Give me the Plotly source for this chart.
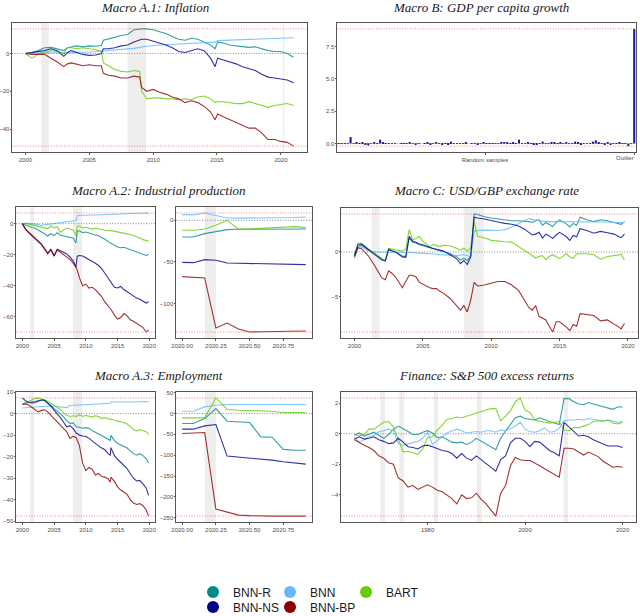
import plotly.graph_objects as go

W, H = 640, 640   # figure is a little taller than the 616px window; the extra strip is blank

MODELS = ["BNN-R", "BNN", "BART", "BNN-NS", "BNN-BP"]
COLORS = ["#008B8B", "#63B8FF", "#66CD00", "#00008B", "#8B0000"]

# ---------------- Macro A.1: Inflation ----------------
a1_years = [2000.0, 2000.5, 2001.0, 2001.5, 2002.0, 2002.5, 2003.0, 2003.3, 2003.6, 2004.0, 2004.5,
            2005.0, 2005.5, 2005.95, 2006.1, 2006.5, 2007.0, 2007.5, 2008.0, 2008.5, 2008.95, 2009.1,
            2009.5, 2010.0, 2010.5, 2011.0, 2011.5, 2012.0, 2012.5, 2013.0, 2013.5, 2014.0, 2014.5,
            2014.85, 2015.05, 2015.5, 2016.0, 2016.5, 2017.0, 2017.5, 2018.0, 2018.5, 2019.0, 2019.5,
            2020.0, 2020.5, 2021.0]
a1_bnn_r = [0.0, 0.5, 1.5, 3.0, 3.2, 2.5, 1.5, 3.0, 3.5, 4.0, 3.5, 4.0, 3.8, 4.2, 7.0, 7.5, 8.5, 9.5,
            10.0, 12.5, 13.0, 13.0, 13.0, 12.5, 11.5, 10.5, 9.0, 7.5, 7.0, 8.0, 7.5, 6.0, 4.5, 2.5, 6.0,
            5.5, 4.5, 4.0, 3.5, 3.2, 3.5, 2.5, 1.5, 1.0, 1.0, 0.0, -2.0]
a1_bnn = [0.0, 0.3, 0.5, 0.5, 0.4, 0.3, 0.3, 0.4, 0.5, 0.5, 0.7, 0.8, 1.0, 1.2, 1.4, 1.5, 1.8, 2.0, 2.3,
          2.7, 3.2, 3.5, 3.8, 4.2, 4.5, 4.6, 4.8, 5.0, 5.2, 5.3, 5.5, 5.7, 5.8, 6.0, 6.8, 6.9, 7.0, 7.2,
          7.3, 7.5, 7.6, 7.7, 7.8, 8.0, 8.1, 8.2, 8.3]
a1_bart = [0.0, -2.5, -0.5, 0.5, 1.5, 1.0, 0.0, 3.0, 3.0, 2.5, 3.0, 2.5, 2.0, 1.0, -5.0, -6.5, -8.5,
           -9.5, -9.8, -9.0, -9.5, -20.0, -24.0, -23.5, -23.5, -24.0, -24.0, -24.5, -24.0, -24.5, -23.0,
           -22.5, -24.0, -26.0, -25.5, -25.5, -26.0, -26.5, -26.5, -25.5, -26.5, -27.5, -28.5, -27.5,
           -27.0, -26.5, -27.5]
a1_bnn_ns = [0.0, 0.5, 1.0, 1.5, 2.5, 1.5, -1.5, 0.5, 1.5, 0.5, -0.5, -1.0, -0.8, 0.0, 2.5, 2.5, 3.0,
             4.0, 4.5, 6.0, 7.0, 7.5, 7.5, 6.5, 5.5, 4.5, 3.0, 1.0, 0.5, 1.5, 2.5, 1.5, -2.5, -7.0, -2.5,
             -3.5, -4.5, -5.5, -7.0, -8.0, -9.0, -11.0, -12.5, -13.0, -13.5, -14.0, -15.5]
a1_bnn_bp = [0.0, -0.5, -0.5, -0.5, -2.5, -4.5, -7.0, -5.5, -5.0, -5.5, -6.5, -6.0, -6.5, -6.5, -10.5,
             -11.5, -12.0, -13.0, -13.0, -12.0, -12.5, -18.0, -20.0, -19.0, -20.5, -21.5, -23.0, -24.0,
             -26.0, -25.0, -26.0, -28.0, -31.0, -35.0, -32.0, -33.5, -35.0, -36.5, -38.0, -39.5, -39.5,
             -42.0, -45.5, -45.5, -46.5, -47.0, -49.0]
a1_recessions = [[2001.25, 2001.83], [2008.0, 2009.45], [2020.15, 2020.27]]

# ---------------- Macro B: GDP per capita growth ----------------
b_random = [0.02, 0.03, 0.01, -0.02, 0.50, 0.04, 0.06, 0.02, 0.05, -0.10,
            -0.15, 0.02, 0.05, 0.04, 0.30, 0.10, 0.02, 0.01, -0.01, 0.02,
            0.00, 0.01, 0.03, -0.02, 0.05, 0.01, -0.10, 0.02, 0.00, 0.03,
            0.06, -0.10, 0.02, 0.05, 0.01, -0.05, 0.02, -0.10, 0.15, 0.01,
            0.02, -0.02, 0.01, 0.10, 0.00, 0.02, -0.01, -0.05, 0.01, 0.05,
            0.02, -0.02, 0.03, 0.01, 0.04, 0.10, 0.05, 0.10, 0.03, 0.10,
            0.02, 0.30, 0.03, 0.01, 0.05, 0.02, -0.10, -0.05, 0.02, 0.15,
            0.01, 0.03, 0.05, 0.10, 0.02, 0.05, 0.01, 0.05, 0.02, 0.01,
            0.15, 0.12, -0.05, 0.01, 0.02, 0.03, 0.15, 0.25, 0.05, 0.01,
            -0.05, 0.05, -0.10, 0.02, 0.01, 0.05, 0.03, 0.02, -0.20, 0.03]
b_outlier = 8.87
b_ticklabels = ["Random samples", "Outlier"]

# ---------------- Macro A.2: Industrial production ----------------
a2_years = [2000.0, 2000.5, 2001.0, 2001.5, 2002.0, 2002.5, 2003.0, 2003.5, 2004.0, 2004.5, 2005.0,
            2005.5, 2006.0, 2006.5, 2007.0, 2007.5, 2008.0, 2008.45, 2008.65, 2009.0, 2009.5, 2010.0,
            2010.5, 2011.0, 2011.5, 2012.0, 2012.5, 2013.0, 2013.5, 2014.0, 2014.5, 2015.0, 2015.5,
            2016.0, 2016.5, 2017.0, 2017.5, 2018.0, 2018.5, 2019.0, 2019.5, 2019.9]
a2_bnn_r = [0.0, -1.0, -1.5, -2.5, -3.0, -4.0, -5.0, -6.5, -8.0, -6.5, -7.7, -5.8, -7.5, -8.0, -8.2,
            -8.8, -9.2, -12.5, -4.8, -4.6, -5.8, -5.4, -6.2, -7.0, -7.3, -7.8, -8.8, -10.0, -11.5,
            -13.0, -14.0, -15.0, -15.5, -15.2, -16.0, -16.8, -17.3, -18.0, -18.8, -19.5, -20.5, -19.8]
a2_bnn = [0.0, 0.3, 0.2, 0.0, -0.3, -0.5, -1.0, -0.8, -0.5, -0.3, 0.0, 0.2, 0.5, 1.0, 1.5, 1.7, 1.8,
          2.0, 5.3, 5.4, 5.5, 5.4, 5.5, 5.6, 5.6, 5.7, 5.8, 5.8, 5.9, 6.0, 6.0, 6.1, 6.0, 6.2, 6.2, 6.3,
          6.4, 6.4, 6.6, 6.8, 6.9, 6.3]
a2_bart = [0.0, 0.3, -0.3, -0.8, -1.0, -1.3, -2.0, -2.5, -3.2, -1.5, -2.8, -2.0, -5.5, -4.0, -2.8,
           -3.5, -4.0, -7.7, -1.5, -1.5, -2.8, -2.3, -2.8, -3.5, -3.0, -3.2, -3.8, -4.2, -4.6, -4.5,
           -5.0, -5.3, -5.8, -6.2, -6.6, -7.0, -7.6, -8.2, -9.2, -10.3, -10.8, -11.4]
a2_bnn_ns = [0.0, -3.5, -5.5, -7.5, -9.5, -11.0, -13.0, -16.0, -19.0, -16.5, -20.5, -16.5, -17.5,
             -18.5, -19.5, -21.5, -24.0, -28.0, -21.0, -20.5, -20.8, -22.0, -23.0, -24.0, -25.5, -27.0,
             -29.0, -32.0, -35.0, -38.5, -41.0, -41.5, -40.5, -42.5, -44.0, -45.5, -46.8, -48.0, -48.8,
             -50.0, -51.2, -50.3]
a2_bnn_bp = [0.0, -3.5, -6.0, -8.0, -10.0, -11.5, -13.5, -16.5, -19.5, -17.0, -21.0, -17.0, -18.5,
             -19.5, -21.0, -23.0, -25.5, -28.0, -30.0, -35.0, -40.0, -39.0, -41.5, -41.0, -42.5, -44.5,
             -47.0, -50.5, -53.0, -55.5, -59.0, -61.5, -60.5, -58.0, -59.5, -62.0, -63.0, -64.5, -65.5,
             -67.0, -69.9, -68.5]
long_recessions = [[2001.25, 2001.83], [2008.0, 2009.45]]

# 2020 monthly sub-panels
months_2020 = [2020.0, 2020.083, 2020.167, 2020.25, 2020.333, 2020.417, 2020.5, 2020.583,
               2020.667, 2020.75, 2020.833, 2020.917]
covid_recession = [[2020.167, 2020.25]]
sub_tickvals = [2020.0, 2020.25, 2020.5, 2020.75]
sub_ticktext = ["2020.00", "2020.25", "2020.50", "2020.75"]

a2s_bnn_r = [-20.0, -20.0, -16.0, -13.2, -11.2, -10.8, -10.8, -10.6, -10.6, -10.5, -10.5, -10.4]
a2s_bnn = [6.8, 6.5, 8.8, 6.0, 2.8, 2.6, 2.6, 2.6, 2.8, 3.0, 3.4, 4.0]
a2s_bart = [-12.0, -12.0, -10.5, -6.0, 0.0, -10.4, -10.2, -9.6, -9.2, -8.8, -7.6, -8.8]
a2s_bnn_ns = [-50.4, -50.8, -47.2, -48.0, -51.2, -51.6, -52.0, -52.0, -52.4, -52.4, -52.8, -53.2]
a2s_bnn_bp = [-67.6, -68.4, -69.2, -129.2, -123.2, -130.4, -134.0, -133.6, -133.2, -132.8, -132.4,
              -132.8]

# ---------------- Macro C: USD/GBP exchange rate ----------------
c_years = [2000.0, 2000.25, 2000.5, 2000.75, 2001.0, 2001.5, 2002.0, 2002.25, 2002.5, 2002.75,
           2003.0, 2003.5, 2003.75, 2004.0, 2004.25, 2004.5, 2004.75, 2005.0, 2005.5, 2005.75,
           2006.0, 2006.25, 2006.5, 2007.0, 2007.5, 2007.75, 2008.0, 2008.25, 2008.5, 2008.75,
           2009.0, 2009.5, 2010.0, 2010.5, 2011.0, 2011.5, 2012.0, 2012.5, 2012.75, 2013.0,
           2013.25, 2013.5, 2013.75, 2014.0, 2014.25, 2014.5, 2014.75, 2015.0, 2015.5, 2015.75,
           2016.0, 2016.25, 2016.5, 2017.0, 2017.5, 2018.0, 2018.5, 2019.0, 2019.25, 2019.5, 2019.75]
c_bnn_r = [-0.35, 0.6, 0.75, 0.5, 0.3, -0.2, -0.8, -1.0, 0.3, 0.15, 0.0, -0.45, -0.5, 1.6, 1.1, 1.0,
           0.8, 0.7, 0.45, 0.35, 0.25, 0.15, 0.05, -0.2, -0.55, -0.9, -0.7, -0.95, -0.4, 4.26, 4.2,
           3.95, 3.8, 3.7, 3.6, 3.5, 3.5, 3.45, 3.4, 3.3, 3.5, 3.6, 3.0, 3.3, 3.1, 2.85, 3.3, 3.6,
           3.15, 2.8, 3.2, 3.0, 3.9, 3.6, 3.4, 3.6, 3.5, 3.3, 3.2, 3.1, 3.4]
c_bnn = [-0.5, 0.5, 0.6, 0.35, 0.15, 0.0, 0.0, -0.05, 0.0, 0.0, 0.0, 0.0, -0.05, 0.0, -0.05, -0.1,
         -0.1, -0.15, -0.2, -0.2, -0.25, -0.3, -0.3, -0.35, -0.4, -0.35, -0.3, -0.4, -0.55, 2.3, 2.4,
         2.45, 2.4, 2.4, 2.5, 2.8, 3.2, 3.6, 3.75, 3.65, 3.55, 3.5, 3.45, 3.4, 3.4, 3.4, 3.4, 3.4,
         3.4, 3.4, 3.4, 3.4, 3.4, 3.4, 3.4, 3.4, 3.35, 3.3, 3.3, 3.3, 3.3]
c_bart = [-0.3, 1.0, 0.95, 0.6, 0.35, -0.2, -0.8, -1.0, 0.4, 0.3, 0.25, 0.1, 0.35, 2.5, 1.35, 1.5,
          1.75, 1.2, 0.6, 0.85, 0.7, 0.6, 0.75, 0.7, 0.4, 0.2, 0.45, 0.1, 0.5, 3.4, 1.75, 1.6, 1.3,
          1.2, 1.15, 1.1, 0.6, 0.1, -0.1, -0.35, -0.65, -0.5, -0.4, -0.85, -0.5, -0.3, -0.55, -0.75,
          -0.2, -0.55, -0.7, -0.2, -0.2, -0.2, -0.3, -0.8, -0.5, -0.45, -0.35, -0.25, -0.9]
c_bnn_ns = [-0.4, 0.8, 0.9, 0.6, 0.4, -0.2, -0.9, -1.0, 0.3, 0.1, 0.0, -0.55, -0.6, 1.75, 1.2, 1.1,
            0.9, 0.8, 0.5, 0.4, 0.3, 0.2, 0.1, -0.3, -0.8, -1.3, -0.95, -1.4, -0.55, 3.9, 3.8, 3.7,
            3.5, 3.35, 3.2, 3.1, 2.9, 2.5, 2.2, 1.9, 2.0, 2.2, 1.55, 2.0, 1.8, 1.5, 1.9, 2.2, 1.7,
            1.3, 1.85, 1.7, 2.6, 2.4, 2.1, 2.3, 2.15, 2.0, 1.8, 1.6, 2.0]
c_bnn_bp = [-0.6, 0.45, 0.4, 0.0, -0.4, -1.6, -2.9, -3.1, -2.1, -2.4, -2.8, -4.0, -3.3, -2.6, -2.6,
            -2.8, -3.4, -3.6, -4.0, -4.1, -4.1, -4.4, -4.6, -5.2, -6.0, -6.5, -6.0, -6.7, -5.4, -3.4,
            -3.8, -3.7, -3.5, -3.3, -3.3, -3.7, -4.3, -5.6, -6.2, -6.5, -6.0, -7.2, -7.4, -7.6, -8.3,
            -8.96, -7.8, -7.8, -8.4, -8.8, -8.1, -8.3, -6.9, -7.0, -7.1, -7.7, -7.6, -8.1, -8.3, -8.6,
            -8.0]

# ---------------- Macro A.3: Employment ----------------
a3_years = [2000.0, 2000.5, 2001.0, 2001.5, 2002.0, 2002.5, 2003.0, 2003.5, 2004.0, 2004.5, 2005.0,
            2005.5, 2006.0, 2006.5, 2007.0, 2007.5, 2008.0, 2008.5, 2009.0, 2009.5, 2010.0, 2010.5,
            2011.0, 2011.5, 2012.0, 2012.5, 2013.0, 2013.5, 2013.85, 2013.95, 2014.5, 2015.0, 2015.5,
            2016.0, 2016.5, 2017.0, 2017.5, 2018.0, 2018.5, 2019.0, 2019.5, 2019.9]
a3_bnn_r = [4.2, 5.0, 5.2, 5.5, 5.6, 6.0, 6.3, 6.0, 5.1, 3.8, 2.3, 1.2, 0.0, -1.5, -3.4, -4.5, -4.3,
            -6.0, -6.4, -6.8, -6.5, -6.8, -7.8, -8.6, -9.3, -10.2, -11.0, -12.0, -12.4, -10.1, -12.5,
            -13.8, -14.5, -15.3, -16.0, -17.3, -18.6, -19.3, -18.6, -19.5, -20.9, -22.9]
a3_bnn = [2.6, 2.8, 3.0, 3.0, 3.1, 3.2, 3.3, 3.5, 3.6, 3.5, 3.4, 3.3, 3.1, 3.0, 2.8, 3.8, 3.9, 4.0,
          4.1, 4.2, 4.3, 4.4, 4.4, 4.5, 4.6, 4.6, 4.7, 4.8, 4.8, 5.4, 5.4, 5.3, 5.2, 5.2, 5.1, 5.2, 5.3,
          5.4, 5.5, 5.6, 5.6, 5.4]
a3_bart = [4.2, 5.0, 5.5, 6.3, 7.0, 7.2, 6.8, 6.3, 5.8, 4.8, 3.9, 3.0, 2.0, 0.5, -0.8, -1.3, -1.0,
           -1.3, -0.5, -1.3, -0.8, -1.2, -1.6, -1.0, -1.3, -2.3, -1.9, -2.3, -2.8, -2.5, -3.2, -3.5,
           -3.7, -4.2, -4.8, -6.0, -7.5, -8.0, -7.4, -8.0, -8.4, -9.6]
a3_bnn_ns = [7.3, 6.0, 5.2, 5.0, 5.2, 5.8, 6.3, 6.3, 5.0, 3.5, 1.6, 0.0, -1.9, -4.0, -6.2, -5.6, -7.0,
             -9.0, -10.0, -10.4, -10.6, -11.5, -12.8, -14.0, -15.0, -16.0, -16.8, -18.5, -19.4, -15.8,
             -19.5, -21.2, -22.5, -24.0, -25.5, -27.8, -30.0, -31.3, -31.0, -32.6, -34.5, -38.0]
a3_bnn_bp = [4.2, 4.5, 4.0, 2.8, 1.8, 0.8, 1.5, 1.8, 0.8, -0.7, -2.3, -3.8, -5.4, -7.0, -8.5, -11.5,
             -10.5, -11.2, -15.0, -23.0, -26.4, -25.0, -25.8, -28.5, -27.8, -29.2, -29.5, -30.2, -31.8,
             -29.5, -31.5, -34.0, -35.5, -36.5, -37.5, -40.0, -41.5, -42.2, -41.8, -42.8, -44.7, -47.6]

a3s_bnn_r = [-24.0, -24.0, -12.0, 12.0, -18.4, -20.0, -21.6, -56.0, -56.7, -86.0, -88.0, -88.0]
a3s_bnn = [5.6, 5.6, 16.0, 20.0, 21.6, 21.6, 21.6, 21.6, 21.6, 21.6, 21.6, 21.6]
a3s_bart = [-10.4, -10.4, -10.4, 37.5, 10.4, 8.0, 7.2, 5.6, 5.6, 2.4, 1.6, 2.4]
a3s_bnn_ns = [-37.5, -37.5, -29.6, -26.4, -102.0, -104.6, -107.8, -108.6, -111.8, -115.8, -118.2,
              -121.4]
a3s_bnn_bp = [-48.0, -47.5, -45.5, -229.0, -235.6, -243.6, -245.0, -246.0, -246.0, -246.0, -246.0,
              -246.0]

# ---------------- Finance: S&P 500 excess returns ----------------
fin_years = list(range(1965, 2021))
fin_bnn_r = [-0.1, 0.05, -0.15, 0.0, 0.1, -0.1, -0.3, -0.05, 0.3, 0.5,
             0.35, 0.15, -0.05, -0.05, 0.1, 0.2, 0.05, -0.25, -0.2, -0.4,
             -0.55, -0.6, -0.55, -0.7, -0.55, -0.3, -0.5, -0.7, -0.9, -1.05,
             -0.3, 0.2, 0.6, 1.05, 1.15, 1.0, 0.95, 0.9, 1.05, 0.9,
             0.8, 0.7, 0.6, 2.3, 2.3, 2.1, 1.95, 1.9, 2.05, 1.95,
             1.85, 1.75, 1.7, 1.6, 1.75, 1.75]
fin_bnn = [-0.25, -0.55, -0.4, -0.2, -0.1, 0.15, 0.2, 0.3, 0.2, -0.65,
           -0.75, -0.65, -0.55, -0.5, -0.3, 0.1, -0.7, -0.45, -0.2, 0.05,
           0.2, 0.3, 0.2, 0.05, 0.1, 0.15, 0.1, 0.2, 0.2, 0.1,
           0.25, 0.2, 0.35, 0.5, 0.75, 0.3, 0.15, 0.1, 0.2, 0.4,
           0.1, 0.15, 0.35, 0.85, 0.9, 0.9, 0.95, 0.9, 1.0, 0.95,
           0.9, 0.85, 0.9, 0.8, 0.75, 0.8]
fin_bart = [-0.05, -0.15, -0.05, 0.3, 0.3, 0.5, 0.75, 0.8, 0.45, -0.35,
            -1.2, -1.15, -1.25, -1.35, -1.0, -0.25, -0.2, 0.25, 0.55, 0.95,
            1.0, 1.1, 1.05, 1.15, 1.25, 1.35, 1.4, 1.55, 1.65, 1.65,
            0.85, 1.15, 1.5, 2.1, 2.35, 1.55, 1.4, 0.9, 0.8, 0.75,
            0.7, 0.75, 0.8, 0.25, 0.2, 0.4, 0.4, 0.5, 0.6, 0.8,
            0.85, 0.8, 0.9, 0.7, 0.65, 0.75]
fin_bnn_ns = [-0.35, -0.2, -0.35, -0.3, -0.2, -0.4, -0.5, -0.65, -0.6, -0.3,
              -0.55, -0.85, -0.9, -1.0, -0.8, -0.75, -0.85, -1.0, -1.1, -1.15,
              -1.3, -1.6, -1.3, -1.6, -1.75, -1.45, -1.7, -2.0, -2.2, -2.45,
              -1.7, -1.45, -0.6, -0.3, -0.3, -0.5, -0.85, -0.5, -0.55, -0.85,
              -1.1, -1.25, -1.45, 0.75, 0.45, 0.15, -0.15, -0.1, -0.2, -0.4,
              -0.55, -0.65, -0.8, -0.8, -0.8, -0.9]
fin_bnn_bp = [-0.4, -0.6, -0.75, -0.9, -1.1, -1.45, -1.6, -1.9, -2.0, -2.9,
              -3.1, -3.5, -3.4, -3.65, -3.5, -3.35, -3.5, -3.7, -3.8, -4.0,
              -4.25, -4.6, -4.0, -4.25, -4.2, -3.9, -4.3, -4.6, -5.0, -5.4,
              -3.9, -3.4, -2.1, -1.55, -1.7, -1.75, -1.75, -1.9, -2.1, -2.3,
              -2.5, -2.7, -2.85, -0.95, -0.95, -1.0, -1.2, -1.4, -1.2, -1.35,
              -1.5, -1.8, -2.0, -2.2, -2.15, -2.2]
fin_recessions = [[1970.3, 1971.3], [1974.2, 1975.2], [1981.3, 1982.1], [1990.1, 1991.1],
                  [2007.9, 2008.8]]

# ---------------- styling ----------------
TICK_FONT = dict(family="Liberation Sans, Arial, sans-serif", size=6, color="#4D4D4D")
TITLE_FONT = dict(family="Liberation Serif, Times New Roman, serif", size=13, color="#1A1A1A")
BAND = "#EEEEEE"
ZERO_LINE = dict(color="#7A7A7A", width=0.9, dash="1px,1.6px")
EXT_LINE = dict(color="rgba(240,90,90,0.8)", width=0.9, dash="1px,1.6px")


def expand(lo, hi, f=0.05):
    d = hi - lo
    return [lo - f * d, hi + f * d]


def dom_x(a, b):
    return [a / W, b / W]


def dom_y(top, bottom):
    return [1 - bottom / H, 1 - top / H]


def py(v):
    return 1 - v / H


line_panels = [
    dict(n=1, bx=(12, 307), by=(23, 152), x=a1_years,
         s=[a1_bnn_r, a1_bnn, a1_bart, a1_bnn_ns, a1_bnn_bp], bands=a1_recessions,
         xt=[2000, 2005, 2010, 2015, 2020], xtt=None, yt=[-40, -20, 0]),
    dict(n=3, bx=(16, 155), by=(207, 338), x=a2_years,
         s=[a2_bnn_r, a2_bnn, a2_bart, a2_bnn_ns, a2_bnn_bp], bands=long_recessions,
         xt=[2000, 2005, 2010, 2015, 2020], xtt=None, yt=[-60, -40, -20, 0]),
    dict(n=4, bx=(176, 312), by=(207, 338), x=months_2020,
         s=[a2s_bnn_r, a2s_bnn, a2s_bart, a2s_bnn_ns, a2s_bnn_bp], bands=covid_recession,
         xt=sub_tickvals, xtt=sub_ticktext, yt=[-100, -50, 0]),
    dict(n=5, bx=(341, 638), by=(208, 338), x=c_years,
         s=[c_bnn_r, c_bnn, c_bart, c_bnn_ns, c_bnn_bp], bands=long_recessions,
         xt=[2000, 2005, 2010, 2015, 2020], xtt=None, yt=[-5, 0]),
    dict(n=6, bx=(16, 155), by=(392, 522), x=a3_years,
         s=[a3_bnn_r, a3_bnn, a3_bart, a3_bnn_ns, a3_bnn_bp], bands=long_recessions,
         xt=[2000, 2005, 2010, 2015, 2020], xtt=None, yt=[-50, -40, -30, -20, -10, 0, 10]),
    dict(n=7, bx=(176, 312), by=(392, 522), x=months_2020,
         s=[a3s_bnn_r, a3s_bnn, a3s_bart, a3s_bnn_ns, a3s_bnn_bp], bands=covid_recession,
         xt=sub_tickvals, xtt=sub_ticktext, yt=[-250, -200, -150, -100, -50, 0, 50]),
    dict(n=8, bx=(341, 636), by=(392, 522), x=fin_years,
         s=[fin_bnn_r, fin_bnn, fin_bart, fin_bnn_ns, fin_bnn_bp], bands=fin_recessions,
         xt=[1980, 2000, 2020], xtt=None, yt=[-4, -2, 0, 2]),
]

fig = go.Figure()
layout = dict(width=W, height=H, margin=dict(l=0, r=0, t=0, b=0),
              paper_bgcolor="white", plot_bgcolor="white", template="none",
              showlegend=True, barmode="overlay", bargap=0.3)
shapes = []


def ax_names(n):
    return ("x" if n == 1 else f"x{n}", "y" if n == 1 else f"y{n}")


def axis_style(is_y):
    d = dict(showline=True, mirror=True, linecolor="#555555", linewidth=1,
             ticks="outside", ticklen=1.5, tickwidth=0.8, tickcolor="#555555",
             showgrid=False, zeroline=False, tickfont=TICK_FONT, automargin=False)
    if is_y:
        d["ticklabelstandoff"] = -1
    return d


def add_hlines(n, ymin, ymax):
    xr, yr = ax_names(n)
    for yv, st in [(0, ZERO_LINE), (ymax, EXT_LINE), (ymin, EXT_LINE)]:
        shapes.append(dict(type="line", xref=f"{xr} domain", yref=yr, x0=0, x1=1,
                           y0=yv, y1=yv, line=st, layer="above"))


for p in line_panels:
    n = p["n"]
    xr, yr = ax_names(n)
    allv = [v for ser in p["s"] for v in ser]
    ymin, ymax = min(allv), max(allv)
    for name, col, ser in zip(MODELS, COLORS, p["s"]):
        fig.add_trace(go.Scatter(x=p["x"], y=ser, mode="lines", name=name,
                                 line=dict(color=col, width=1.1), opacity=0.8,
                                 xaxis=xr, yaxis=yr, showlegend=False, hoverinfo="skip"))
    for b0, b1 in p["bands"]:
        shapes.append(dict(type="rect", xref=xr, yref=f"{yr} domain", x0=b0, x1=b1, y0=0, y1=1,
                           fillcolor=BAND, line=dict(width=0), layer="below"))
    add_hlines(n, ymin, ymax)
    xa = axis_style(False)
    xa.update(domain=dom_x(*p["bx"]), anchor=yr, range=expand(min(p["x"]), max(p["x"])),
              tickvals=p["xt"])
    if p["xtt"]:
        xa["ticktext"] = p["xtt"]
    ya = axis_style(True)
    ya.update(domain=dom_y(*p["by"]), anchor=xr,
              range=expand(min(ymin, 0), max(ymax, 0)), tickvals=p["yt"])
    layout["xaxis" if n == 1 else f"xaxis{n}"] = xa
    layout["yaxis" if n == 1 else f"yaxis{n}"] = ya

# Macro B bars
b_vals = b_random + [b_outlier]
b_idx = list(range(1, len(b_vals) + 1))
fig.add_trace(go.Bar(x=b_idx, y=b_vals, marker=dict(color="#00008B", line=dict(width=0)),
                     opacity=0.9, xaxis="x2", yaxis="y2", showlegend=False, hoverinfo="skip"))
add_hlines(2, min(b_vals), max(b_vals))
xa = axis_style(False)
xa.update(domain=dom_x(337, 636), anchor="y2", range=[0.4, len(b_vals) + 0.6],
          tickvals=[(1 + len(b_random)) / 2, len(b_vals)], ticktext=[b_ticklabels[0], ""])
ya = axis_style(True)
ya.update(domain=dom_y(23, 152), anchor="x2", range=expand(min(b_vals), max(b_vals)),
          tickvals=[0, 2.5, 5, 7.5], ticktext=["0.0", "2.5", "5.0", "7.5"])
layout["xaxis2"] = xa
layout["yaxis2"] = ya

annotations = []
# "Outlier" label kept inside the panel's right edge, as in the original
annotations.append(dict(text=b_ticklabels[1], xref="x2 domain", x=1.0, xanchor="right",
                        yref="paper", y=py(157.5), yanchor="middle", showarrow=False,
                        font=TICK_FONT))

# titles
titles = [
    ("Macro A.1: Inflation", 155, 7.5),
    ("Macro B: GDP per capita growth", 481, 7.5),
    ("Macro A.2: Industrial production", 158, 190),
    ("Macro C: USD/GBP exchange rate", 486, 190),
    ("Macro A.3: Employment", 158, 375),
    ("Finance: S&amp;P 500 excess returns", 486, 375),
]
for t, cx, cy in titles:
    annotations.append(dict(text=f"<i>{t}</i>", x=cx / W, y=py(cy), xref="paper", yref="paper",
                            xanchor="center", yanchor="middle", showarrow=False, font=TITLE_FONT))

# legend: one legend box per entry so the 3+2 grid matches the original
legend_pos = [(215, 592), (292, 592), (368, 592), (215, 607), (292, 607)]
for i, (name, col) in enumerate(zip(MODELS, COLORS)):
    lname = "legend" if i == 0 else f"legend{i + 1}"
    fig.add_trace(go.Scatter(x=[None], y=[None], mode="markers", name=name,
                             marker=dict(size=12, color=col), legend=lname, showlegend=True))
    mx, my = legend_pos[i]
    layout[lname] = dict(x=(mx - 22) / W, y=py(my), xanchor="left", yanchor="middle",
                         orientation="h", bgcolor="rgba(0,0,0,0)", borderwidth=0,
                         font=dict(family="Liberation Sans, Arial, sans-serif", size=12,
                                   color="#1A1A1A"),
                         itemclick=False, itemdoubleclick=False)

layout["shapes"] = shapes
layout["annotations"] = annotations
fig.update_layout(**layout)
fig.write_html("out.html", config={"displayModeBar": False},
               post_script="document.body.style.margin='0px';document.body.style.overflow='hidden';")
